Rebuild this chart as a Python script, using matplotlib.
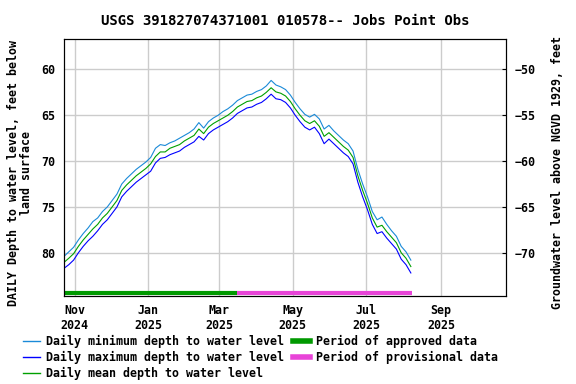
import matplotlib
matplotlib.use("Agg")
import matplotlib.pyplot as plt
from matplotlib.lines import Line2D
import pandas as pd

plt.rcParams['font.family'] = 'DejaVu Sans Mono'
plt.rcParams['font.weight'] = 'bold'
plt.rcParams['axes.titleweight'] = 'bold'
plt.rcParams['axes.labelweight'] = 'bold'
plt.rcParams['font.size'] = 8.4

# daily values sampled every 4 days, 2024-10-23 .. 2025-08-07
dates = pd.date_range('2024-10-23', periods=73, freq='4D')

depth_mean = [81.05, 80.6, 80.1, 79.3, 78.6, 78.0, 77.4, 76.9, 76.2, 75.7,
              75.0, 74.3, 73.2, 72.6, 72.1, 71.6, 71.2, 70.8, 70.3, 69.5,
              69.0, 69.0, 68.6, 68.4, 68.2, 67.8, 67.5, 67.2, 66.5, 67.0,
              66.3, 65.9, 65.6, 65.3, 65.0, 64.6, 64.1, 63.8, 63.5, 63.4,
              63.1, 62.9, 62.5, 62.0, 62.45, 62.6, 62.9, 63.5, 64.3, 65.0,
              65.6, 65.9, 65.6, 66.2, 67.3, 66.9, 67.4, 67.9, 68.4, 68.8,
              69.6, 71.6, 73.2, 74.6, 76.2, 77.2, 77.0, 77.7, 78.3, 78.9,
              80.0, 80.6, 81.5]

depth_min = [80.4, 79.9, 79.4, 78.6, 77.9, 77.3, 76.6, 76.2, 75.5, 75.0,
             74.3, 73.6, 72.5, 71.9, 71.4, 70.9, 70.5, 70.1, 69.6, 68.6,
             68.2, 68.3, 68.0, 67.8, 67.5, 67.2, 66.9, 66.5, 65.8, 66.4,
             65.7, 65.3, 65.0, 64.6, 64.3, 63.9, 63.4, 63.1, 62.8, 62.7,
             62.4, 62.2, 61.8, 61.2, 61.7, 61.9, 62.2, 62.8, 63.6, 64.3,
             64.9, 65.2, 64.9, 65.4, 66.5, 66.1, 66.7, 67.2, 67.7, 68.1,
             68.9, 70.9, 72.5, 73.9, 75.5, 76.4, 76.1, 76.9, 77.6, 78.2,
             79.3, 79.9, 80.8]

depth_max = [81.7, 81.3, 80.8, 80.0, 79.3, 78.7, 78.2, 77.6, 76.9, 76.4,
             75.7, 75.0, 73.9, 73.3, 72.8, 72.3, 71.9, 71.5, 71.1, 70.2,
             69.7, 69.6, 69.3, 69.1, 68.9, 68.5, 68.2, 67.9, 67.3, 67.7,
             67.0, 66.6, 66.3, 66.0, 65.7, 65.3, 64.8, 64.5, 64.2, 64.1,
             63.8, 63.6, 63.2, 62.7, 63.2, 63.3, 63.6, 64.2, 65.0, 65.7,
             66.3, 66.6, 66.3, 67.0, 68.1, 67.6, 68.1, 68.6, 69.1, 69.5,
             70.3, 72.3, 73.9, 75.3, 76.9, 77.9, 77.7, 78.4, 79.0, 79.6,
             80.7, 81.3, 82.2]

approved = ['2024-10-23', '2025-03-16']
provisional = ['2025-03-16', '2025-08-08']
datum = 10.0   # land surface above NGVD 1929, ft

xticks = pd.to_datetime(['2024-11-01', '2025-01-01', '2025-03-01',
                         '2025-05-01', '2025-07-01', '2025-09-01'])
xlabels = ['Nov\n2024', 'Jan\n2025', 'Mar\n2025', 'May\n2025', 'Jul\n2025', 'Sep\n2025']
ylo, yhi = 56.7, 84.72

c_min = '#1a8ad8'
c_max = '#0000ff'
c_mean = '#00a000'
c_appr = '#009900'
c_prov = '#e844d8'

fig = plt.figure(figsize=(5.76, 3.84), dpi=100)
ax = fig.add_axes([0.111, 0.229, 0.7675, 0.669])

ax.plot(dates, depth_min, color=c_min, lw=0.8)
ax.plot(dates, depth_max, color=c_max, lw=0.8)
ax.plot(dates, depth_mean, color=c_mean, lw=0.8)

bar_y = 84.4
ax.plot(pd.to_datetime(approved), [bar_y, bar_y], color=c_appr, lw=3, solid_capstyle='butt')
ax.plot(pd.to_datetime(provisional), [bar_y, bar_y], color=c_prov, lw=3, solid_capstyle='butt')

ax.set_xlim(pd.Timestamp('2024-10-23'), pd.Timestamp('2025-10-25'))
ax.set_ylim(yhi, ylo)
ax.set_yticks([60, 65, 70, 75, 80])
ax.set_xticks(xticks)
ax.set_xticklabels(xlabels)
ax.grid(True, color='#cccccc', lw=1)
ax.tick_params(axis='both', length=0, pad=6)
ax.set_ylabel('DAILY Depth to water level, feet below\nland surface', linespacing=1.0)
ax.set_title('USGS 391827074371001 010578-- Jobs Point Obs', pad=10)

ax2 = ax.twinx()
ax2.set_ylim(datum - yhi, datum - ylo)
ax2.set_yticks([-50, -55, -60, -65, -70])
ax2.tick_params(axis='y', direction='in', length=3, pad=6)
ax2.set_ylabel('Groundwater level above NGVD 1929, feet')

# place axis labels by pixel offset from the spines (plot is 442 px wide)
ax.yaxis.set_label_coords(-31 / 442, 0.48)
ax2.yaxis.set_label_coords(1 + 45 / 442, 0.48)

handles = [Line2D([], [], color=c_min, lw=1),
           Line2D([], [], color=c_max, lw=1),
           Line2D([], [], color=c_mean, lw=1),
           Line2D([], [], color=c_appr, lw=4),
           Line2D([], [], color=c_prov, lw=4)]
labels = ['Daily minimum depth to water level',
          'Daily maximum depth to water level',
          'Daily mean depth to water level',
          'Period of approved data',
          'Period of provisional data']
fig.legend(handles, labels, ncol=2, loc='upper left', bbox_to_anchor=(0.04, 0.127),
           frameon=False, borderpad=0, borderaxespad=0, handlelength=1.45,
           handletextpad=0.5, columnspacing=0.8, labelspacing=0.25)

fig.savefig('out.png', dpi=100)
